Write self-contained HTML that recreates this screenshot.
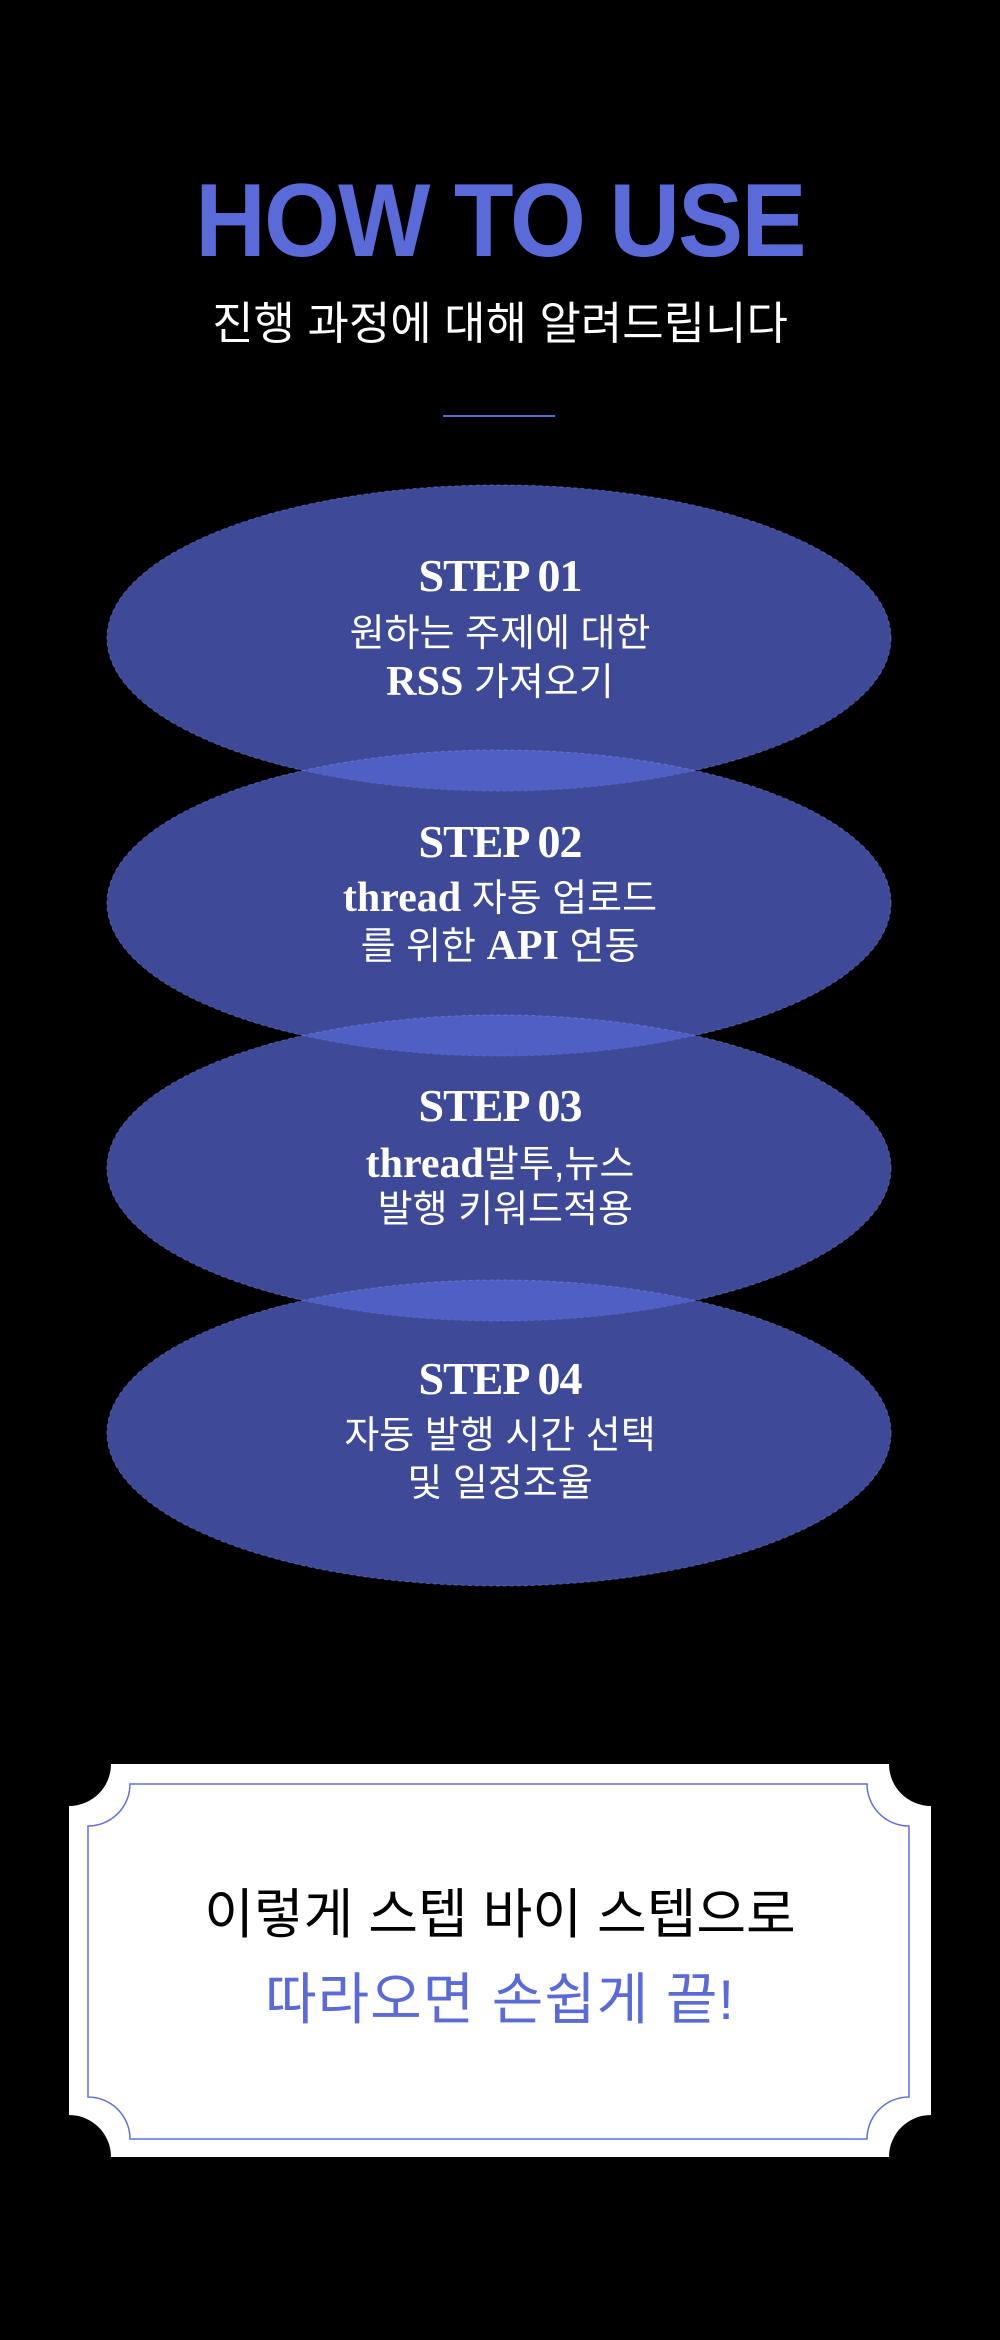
<!DOCTYPE html>
<html><head><meta charset="utf-8"><style>
body{margin:0;width:1000px;height:2340px;background:#000;overflow:hidden;position:relative;font-family:"Liberation Sans","Noto Sans CJK KR",sans-serif}
.t{position:absolute;left:0;width:1000px;text-align:center;white-space:nowrap}
.ko{font-family:"Liberation Sans","Noto Sans CJK KR",sans-serif;color:#fff;font-size:38px;line-height:48px}
.st{font-family:"Liberation Serif",serif;font-weight:bold;color:#fff;font-size:46px;line-height:50px;letter-spacing:-1px}
b{font-family:"Liberation Serif",serif;font-weight:900;font-size:42px}
</style></head><body>
<div class="t" style="top:166px;font-size:104px;line-height:110px;font-weight:bold;color:#5a6ad8;transform:scaleX(0.94);letter-spacing:-2px">HOW TO USE</div>
<div class="t" style="top:296px;font-size:45px;line-height:56px;color:#fff">진행 과정에 대해 알려드립니다</div>
<div style="position:absolute;left:443px;top:415px;width:112px;height:2px;background:#5a6ad8"></div>
<svg style="position:absolute;left:0;top:0" width="1000" height="2340">
<g fill="#5768d6" fill-opacity="0.71" stroke="#8090e8" stroke-opacity="0.5" stroke-dasharray="4 3" stroke-width="1">
<ellipse cx="499" cy="638" rx="392" ry="153"/>
<ellipse cx="499" cy="903" rx="392" ry="153"/>
<ellipse cx="499" cy="1168" rx="392" ry="153"/>
<ellipse cx="499" cy="1433" rx="392" ry="153"/>
</g>
<path fill="#fff" d="M111 1764 H889 A42 42 0 0 0 931 1806 V2115 A42 42 0 0 0 889 2157 H111 A42 42 0 0 0 69 2115 V1806 A42 42 0 0 0 111 1764 Z"/>
<path fill="none" stroke="#6070e0" stroke-width="1.5" d="M130 1784 H867 A42 42 0 0 0 909 1826 V2097 A42 42 0 0 0 867 2139 H130 A42 42 0 0 0 88 2097 V1826 A42 42 0 0 0 130 1784 Z"/>
</svg>
<div class="t st" style="top:551px">STEP 01</div>
<div class="t ko" style="top:610px">원하는 주제에 대한</div>
<div class="t ko" style="top:658px"><b>RSS</b> 가져오기</div>
<div class="t st" style="top:817px">STEP 02</div>
<div class="t ko" style="top:874px"><b>thread</b> 자동 업로드</div>
<div class="t ko" style="top:922px">를 위한 <b>API</b> 연동</div>
<div class="t st" style="top:1081px">STEP 03</div>
<div class="t ko" style="top:1140px"><b>thread</b>말투,뉴스</div>
<div class="t ko" style="top:1186px">&nbsp;발행 키워드적용</div>
<div class="t st" style="top:1354px">STEP 04</div>
<div class="t ko" style="top:1412px">자동 발행 시간 선택</div>
<div class="t ko" style="top:1460px">및 일정조율</div>
<div class="t" style="top:1881px;font-size:54px;line-height:68px;color:#000">이렇게 스텝 바이 스텝으로</div>
<div class="t" style="top:1966px;font-size:56px;line-height:68px;color:#5a6ad8;letter-spacing:1px">따라오면 손쉽게 끝!</div>
</body></html>
